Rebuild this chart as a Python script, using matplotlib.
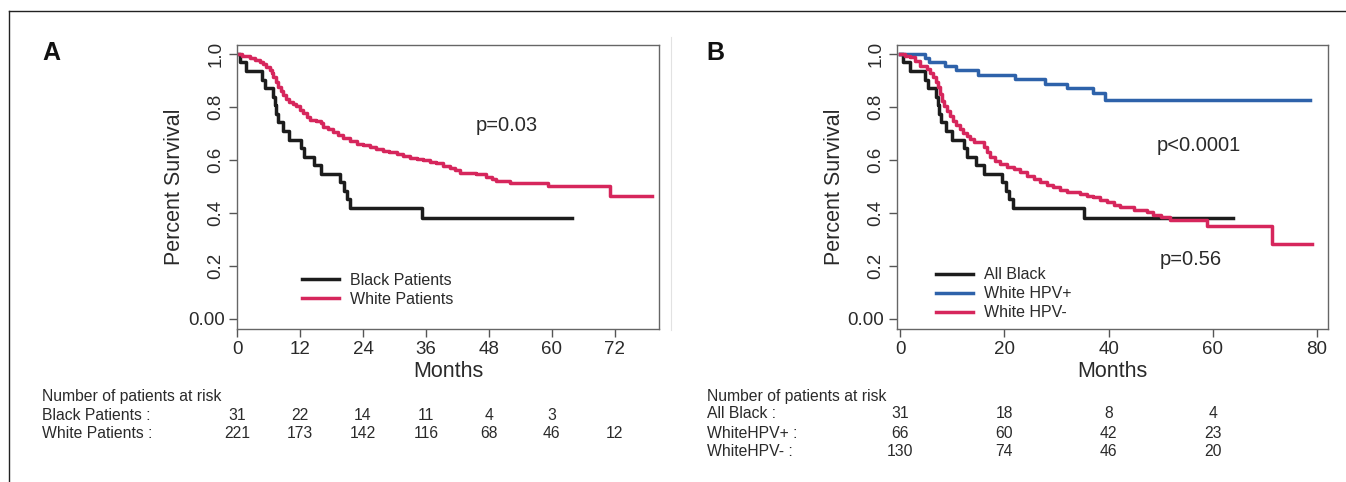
import matplotlib
matplotlib.use("Agg")
import matplotlib.pyplot as plt
from matplotlib.transforms import blended_transform_factory
from matplotlib.lines import Line2D

plt.rcParams['font.family'] = ['Liberation Sans', 'DejaVu Sans']

# ---------------- data ----------------
# Panel A / B black curve (same 31 patients)
black_t = [0, 0.5, 1.8, 4.7, 5.4, 6.9, 7.2, 7.5, 7.9, 8.8, 10.0, 12.2, 12.8, 14.6, 16.0,
           19.6, 20.4, 20.9, 21.6, 35.2, 63.8]
black_s = [1.0, .968, .935, .903, .871, .839, .806, .774, .742, .710, .677, .645, .613, .581,
           .548, .516, .484, .452, .419, .381, .381]

white_t = [0, 1.0, 2.4, 3.4, 4.3, 5.0, 5.6, 6.2, 6.6, 6.9, 7.4, 7.9, 8.4, 8.8, 9.4,
           10.0, 10.7, 11.3, 12.0, 12.6, 13.3, 13.9, 15.1, 16.0, 16.4, 17.3, 18.3, 19.2, 20.2, 21.5,
           22.8, 24.0, 25.3, 26.5, 27.8, 29.0, 30.4, 31.6, 32.9, 34.2, 35.5, 36.8, 38.0, 39.3, 40.5,
           41.5, 42.5, 45.6, 47.5, 48.5, 49.4, 52.0, 59.3, 71.0, 79.0]
white_s = [1.0, .991, .984, .977, .969, .961, .952, .940, .927, .914, .895, .877, .861, .845, .832,
           .820, .812, .804, .790, .776, .763, .751, .748, .738, .726, .716, .707, .695, .682, .671,
           .660, .655, .650, .642, .635, .629, .623, .616, .609, .605, .600, .594, .587, .578, .569,
           .561, .552, .547, .537, .530, .522, .512, .503, .465, .465]

hpvpos_t = [0, 4.8, 5.6, 8.6, 10.8, 15.0, 22.0, 27.8, 32.0, 37.1, 39.3, 78.7]
hpvpos_s = [1.0, .985, .970, .955, .940, .922, .905, .888, .870, .852, .828, .828]

hpvneg_t = [0, 1.0, 1.9, 2.8, 3.8, 5.1, 5.8, 6.4, 6.8, 7.2, 7.6, 8.0, 8.5, 9.0, 9.6,
            10.2, 10.8, 11.5, 12.1, 12.8, 13.4, 14.1, 16.0, 16.6, 17.3, 18.2, 19.2, 20.5, 21.8, 23.0,
            24.3, 25.6, 26.9, 28.1, 29.4, 30.7, 32.0, 34.6, 35.8, 37.1, 38.4, 39.7, 41.0, 42.2, 44.8,
            47.4, 48.6, 50.0, 51.8, 58.9, 71.3, 79.0]
hpvneg_s = [1.0, .994, .987, .972, .956, .943, .928, .912, .893, .874, .849, .824, .805, .786, .767,
            .748, .732, .717, .703, .689, .678, .667, .648, .629, .610, .597, .585, .575, .566, .553,
            .541, .528, .516, .506, .497, .488, .480, .472, .465, .459, .449, .440, .430, .421, .412,
            .403, .394, .386, .375, .352, .283, .283]

a_months = [0, 12, 24, 36, 48, 60, 72]
a_black_risk = [31, 22, 14, 11, 4, 3]
a_white_risk = [221, 173, 142, 116, 68, 46, 12]

b_months = [0, 20, 40, 60]
b_black_risk = [31, 18, 8, 4]
b_hpvpos_risk = [66, 60, 42, 23]
b_hpvneg_risk = [130, 74, 46, 20]

y_ticks = [0, 0.2, 0.4, 0.6, 0.8, 1.0]
y_labels = ["0.00", "0.2", "0.4", "0.6", "0.8", "1.0"]

BLACK = "#1c1c1c"
RED = "#d6265c"
BLUE = "#2e62aa"
TXT = "#2a2a2a"
LW = 2.5

W, H = 1346, 482
fig = plt.figure(figsize=(W / 100, H / 100), dpi=100)


def fy(py):
    return 1 - py / H


def fx(px):
    return px / W


# outer frame lines
fig.add_artist(Line2D([fx(9), fx(9)], [0, fy(11)], color="#222222", lw=1.0))
fig.add_artist(Line2D([fx(9), 1], [fy(11), fy(11)], color="#222222", lw=1.0))
fig.add_artist(Line2D([fx(670.5), fx(670.5)], [fy(330), fy(37)], color="#e2e2e2", lw=0.8))


def style_axes(ax, xticks, xlim):
    ax.set_xlim(*xlim)
    ax.set_ylim(-0.038, 1.034)
    for sp in ax.spines.values():
        sp.set_color("#666666")
        sp.set_linewidth(1.0)
    ax.set_xticks(xticks)
    ax.set_xticklabels([str(v) for v in xticks])
    ax.set_yticks(y_ticks)
    ax.set_yticklabels(y_labels)
    ax.tick_params(axis="both", length=6, width=1.0, color="#555555",
                   labelsize=13.5, labelcolor=TXT, pad=3)
    for lbl in ax.get_yticklabels()[1:]:
        lbl.set_rotation(90)
        lbl.set_va("center")
    ax.set_xlabel("Months", fontsize=15.5, color=TXT, labelpad=2)
    ax.set_ylabel("Percent Survival", fontsize=15.5, color=TXT, labelpad=2)


# ---------------- Panel A ----------------
axA = fig.add_axes([fx(237), fy(329), fx(659) - fx(237), fy(45) - fy(329)])
style_axes(axA, a_months, (0, 80.4))
axA.step(black_t, black_s, where="post", color=BLACK, lw=LW, label="Black Patients")
axA.step(white_t, white_s, where="post", color=RED, lw=LW, label="White Patients")
axA.text(51.4, 0.73, "p=0.03", fontsize=14.5, color=TXT, ha="center", va="center")
axA.legend(loc="upper left", bbox_to_anchor=(0.155, 0.197), frameon=False,
           fontsize=11.5, handlelength=2.3, handletextpad=0.7, labelspacing=0.25,
           borderpad=0, borderaxespad=0, labelcolor=TXT)

# ---------------- Panel B ----------------
axB = fig.add_axes([fx(897), fy(329), fx(1328) - fx(897), fy(45) - fy(329)])
style_axes(axB, [0, 20, 40, 60, 80], (-0.6, 82.1))
axB.step(black_t, black_s, where="post", color=BLACK, lw=LW, label="All Black")
axB.step(hpvpos_t, hpvpos_s, where="post", color=BLUE, lw=LW, label="White HPV+")
axB.step(hpvneg_t, hpvneg_s, where="post", color=RED, lw=LW, label="White HPV-")
axB.text(57.4, 0.655, "p<0.0001", fontsize=14.5, color=TXT, ha="center", va="center")
axB.text(55.7, 0.226, "p=0.56", fontsize=14.5, color=TXT, ha="center", va="center")
axB.legend(loc="upper left", bbox_to_anchor=(0.09, 0.217), frameon=False,
           fontsize=11.5, handlelength=2.3, handletextpad=0.7, labelspacing=0.25,
           borderpad=0, borderaxespad=0, labelcolor=TXT)

# panel letters
fig.text(fx(42), fy(53), "A", fontsize=18, fontweight="bold", color="#111111", va="center", ha="left")
fig.text(fx(706), fy(53), "B", fontsize=18, fontweight="bold", color="#111111", va="center", ha="left")

# ---------------- risk tables ----------------
RS = 11.3
trA = blended_transform_factory(axA.transData, fig.transFigure)
trB = blended_transform_factory(axB.transData, fig.transFigure)

fig.text(fx(42), fy(397), "Number of patients at risk", fontsize=RS, color=TXT, va="center")
fig.text(fx(42), fy(415), "Black Patients :", fontsize=RS, color=TXT, va="center")
fig.text(fx(42), fy(434), "White Patients :", fontsize=RS, color=TXT, va="center")
for m, v in zip(a_months, a_black_risk):
    fig.text(m, fy(415), str(v), transform=trA, fontsize=RS, color=TXT, ha="center", va="center")
for m, v in zip(a_months, a_white_risk):
    fig.text(m, fy(434), str(v), transform=trA, fontsize=RS, color=TXT, ha="center", va="center")

fig.text(fx(707), fy(396), "Number of patients at risk", fontsize=RS, color=TXT, va="center")
fig.text(fx(707), fy(414), "All Black :", fontsize=RS, color=TXT, va="center")
fig.text(fx(707), fy(433), "WhiteHPV+ :", fontsize=RS, color=TXT, va="center")
fig.text(fx(707), fy(452), "WhiteHPV- :", fontsize=RS, color=TXT, va="center")
for row_y, vals in ((414, b_black_risk), (433, b_hpvpos_risk), (452, b_hpvneg_risk)):
    for m, v in zip(b_months, vals):
        fig.text(m, fy(row_y), str(v), transform=trB, fontsize=RS, color=TXT, ha="center", va="center")

fig.savefig("out.png", dpi=100)
